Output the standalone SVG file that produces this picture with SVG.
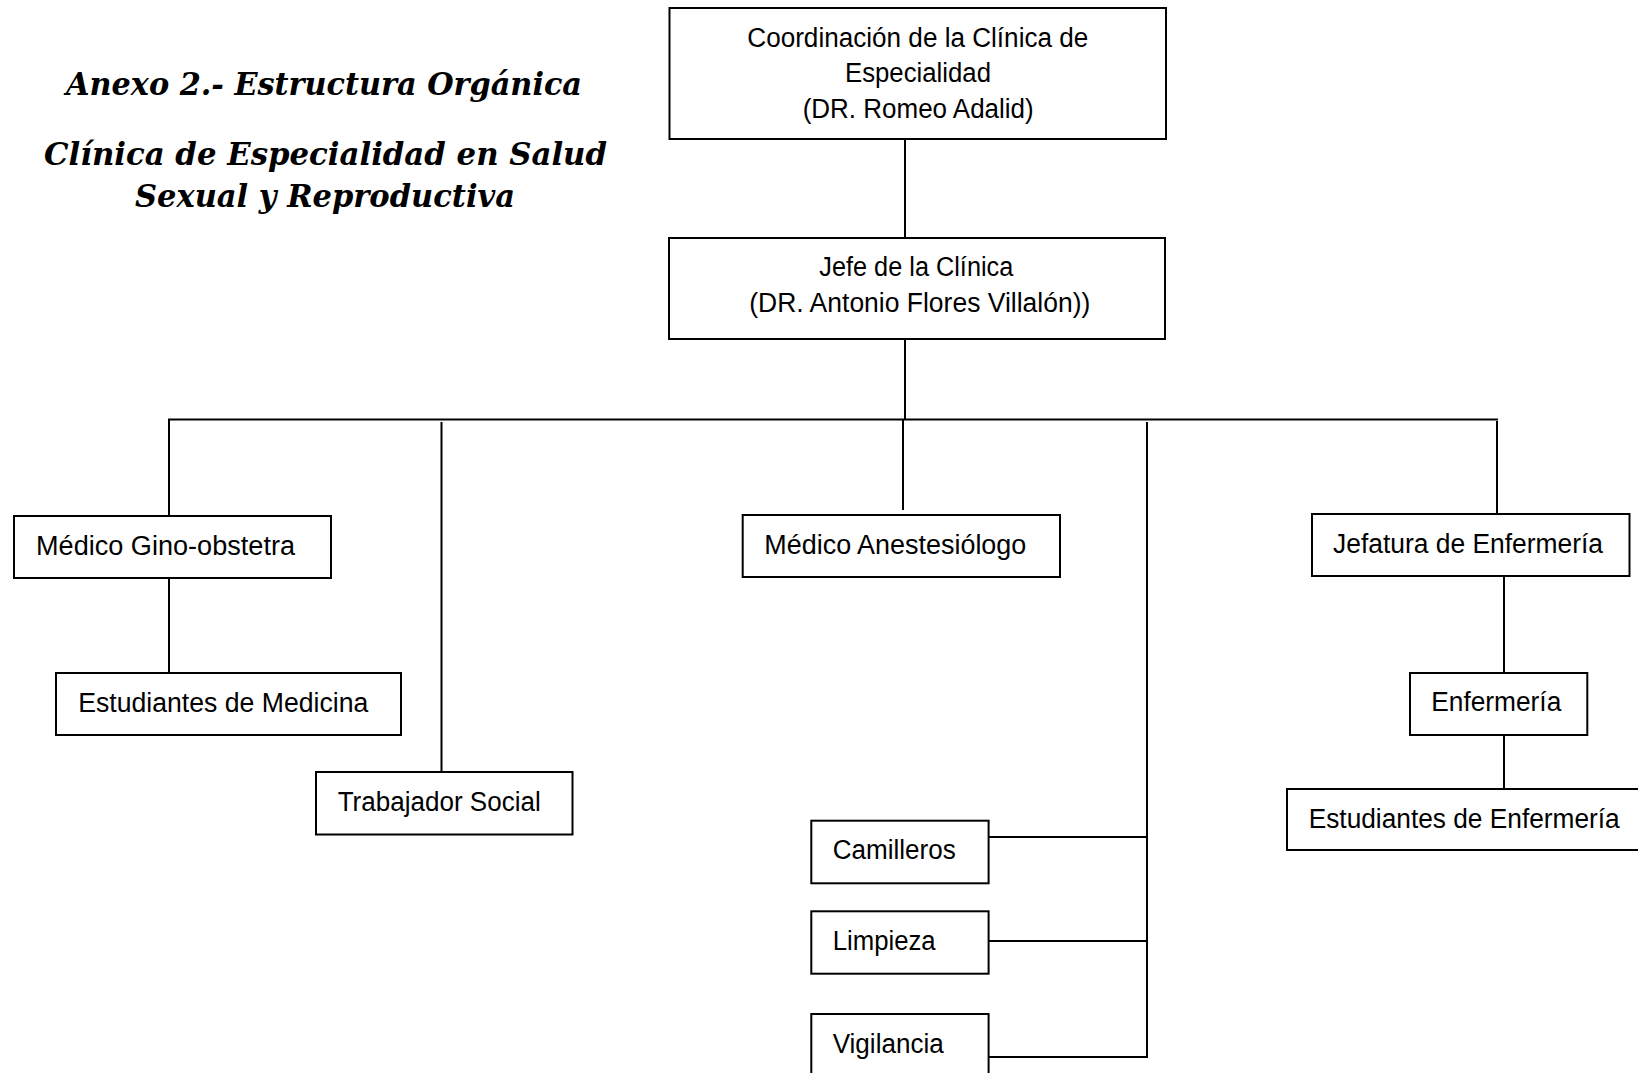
<svg xmlns="http://www.w3.org/2000/svg" width="1638" height="1073" viewBox="0 0 1638 1073">
<style>
.box{fill:#fff;stroke:#000;stroke-width:2}
.t{font-family:"Liberation Sans",Arial,sans-serif;font-size:27px;fill:#000}
.title{font-family:"DejaVu Serif","Liberation Serif",serif;font-size:32px;font-weight:bold;font-style:italic;fill:#000}
.c{stroke:#000;stroke-width:2;fill:none}
</style>
<rect width="1638" height="1073" fill="#fff"/>
<g id="title">
<text class="title" x="66" y="95" textLength="516" lengthAdjust="spacingAndGlyphs">Anexo 2.- Estructura Orgánica</text>
<text class="title" x="44" y="165" textLength="563" lengthAdjust="spacingAndGlyphs">Clínica de Especialidad en Salud</text>
<text class="title" x="135" y="207" textLength="380" lengthAdjust="spacingAndGlyphs">Sexual y Reproductiva</text>
</g>
<g id="connectors">
<line class="c" x1="905" y1="139" x2="905" y2="238"/>
<line class="c" x1="905" y1="339" x2="905" y2="419"/>
<line class="c" x1="168" y1="419.5" x2="1498" y2="419.5"/>
<line class="c" x1="169" y1="419" x2="169" y2="516"/>
<line class="c" x1="169" y1="578" x2="169" y2="673"/>
<line class="c" x1="441.5" y1="422" x2="441.5" y2="772"/>
<line class="c" x1="903" y1="420" x2="903" y2="510"/>
<line class="c" x1="1147" y1="422" x2="1147" y2="1058"/>
<line class="c" x1="988.5" y1="837" x2="1147" y2="837"/>
<line class="c" x1="988.5" y1="941" x2="1147" y2="941"/>
<line class="c" x1="988.5" y1="1057" x2="1148" y2="1057"/>
<line class="c" x1="1497" y1="421" x2="1497" y2="514"/>
<line class="c" x1="1504" y1="576" x2="1504" y2="673"/>
<line class="c" x1="1504" y1="735" x2="1504" y2="789"/>
</g>
<g id="coordinacion">
<rect class="box" x="669.5" y="8" width="496.5" height="131"/>
<text class="t" x="747.3" y="46.7" textLength="341" lengthAdjust="spacingAndGlyphs">Coordinación de la Clínica de</text>
<text class="t" x="845" y="82" textLength="146" lengthAdjust="spacingAndGlyphs">Especialidad</text>
<text class="t" x="802.7" y="118.3" textLength="231" lengthAdjust="spacingAndGlyphs">(DR. Romeo Adalid)</text>
</g>
<g id="jefe">
<rect class="box" x="669" y="238" width="496" height="101"/>
<text class="t" x="819.3" y="276" textLength="194" lengthAdjust="spacingAndGlyphs">Jefe de la Clínica</text>
<text class="t" x="749.3" y="311.7" textLength="341" lengthAdjust="spacingAndGlyphs">(DR. Antonio Flores Villalón))</text>
</g>
<g id="gino">
<rect class="box" x="14" y="516" width="317" height="62"/>
<text class="t" x="36" y="555" textLength="259" lengthAdjust="spacingAndGlyphs">Médico Gino-obstetra</text>
</g>
<g id="est-medicina">
<rect class="box" x="56" y="673" width="345" height="62"/>
<text class="t" x="78.3" y="711.7" textLength="290" lengthAdjust="spacingAndGlyphs">Estudiantes de Medicina</text>
</g>
<g id="trabajador">
<rect class="box" x="316" y="772" width="256.5" height="62.5"/>
<text class="t" x="337.7" y="811" textLength="203" lengthAdjust="spacingAndGlyphs">Trabajador Social</text>
</g>
<g id="anestesiologo">
<rect class="box" x="742.7" y="515" width="317.3" height="62"/>
<text class="t" x="764.3" y="554" textLength="262" lengthAdjust="spacingAndGlyphs">Médico Anestesiólogo</text>
</g>
<g id="jefatura">
<rect class="box" x="1312" y="514" width="317.5" height="62"/>
<text class="t" x="1333" y="553" textLength="270" lengthAdjust="spacingAndGlyphs">Jefatura de Enfermería</text>
</g>
<g id="enfermeria">
<rect class="box" x="1410" y="673" width="177.3" height="62"/>
<text class="t" x="1431.3" y="710.7" textLength="130" lengthAdjust="spacingAndGlyphs">Enfermería</text>
</g>
<g id="est-enfermeria">
<rect class="box" x="1287" y="789" width="380" height="61"/>
<text class="t" x="1308.7" y="827.7" textLength="311" lengthAdjust="spacingAndGlyphs">Estudiantes de Enfermería</text>
</g>
<g id="camilleros">
<rect class="box" x="811.3" y="820.7" width="177.3" height="62.6"/>
<text class="t" x="832.7" y="859" textLength="123" lengthAdjust="spacingAndGlyphs">Camilleros</text>
</g>
<g id="limpieza">
<rect class="box" x="811.3" y="911.3" width="177.3" height="62.4"/>
<text class="t" x="832.7" y="950" textLength="103" lengthAdjust="spacingAndGlyphs">Limpieza</text>
</g>
<g id="vigilancia">
<rect class="box" x="811.3" y="1014" width="177.3" height="80"/>
<text class="t" x="832.7" y="1053.3" textLength="111" lengthAdjust="spacingAndGlyphs">Vigilancia</text>
</g>
</svg>
